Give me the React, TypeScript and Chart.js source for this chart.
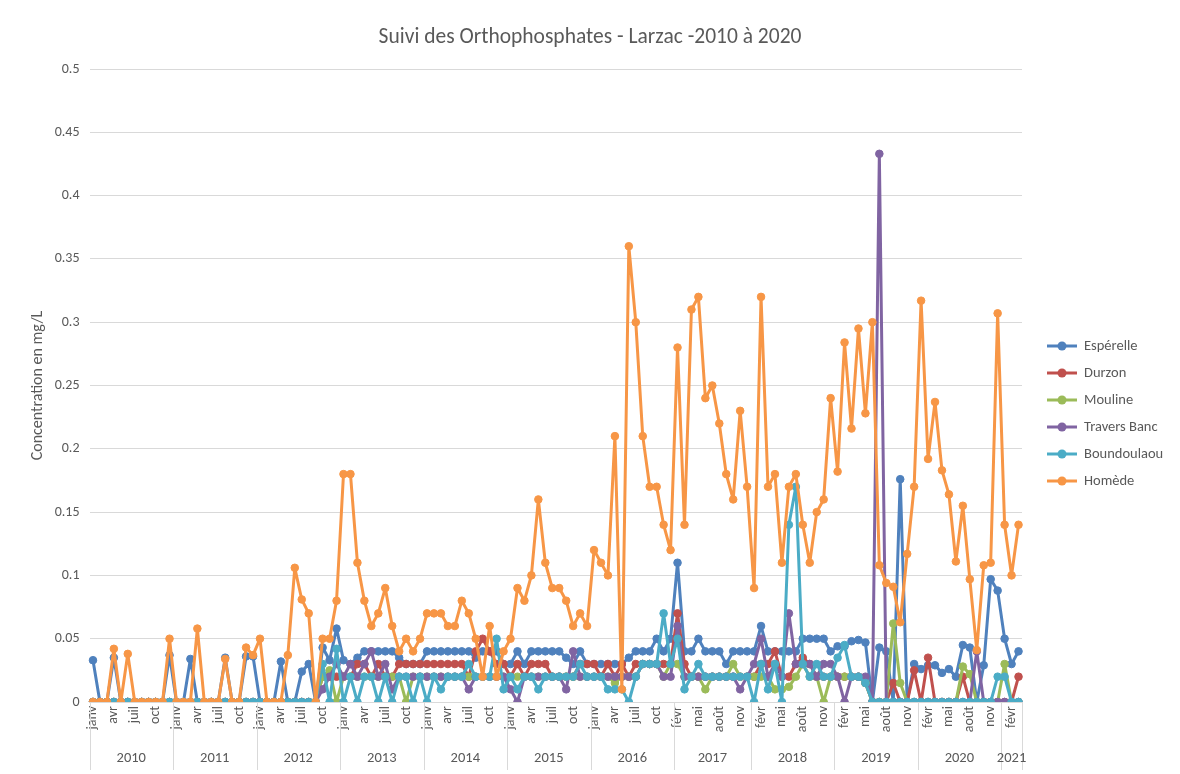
import React, { useEffect, useRef } from 'react';
import { Chart, registerables } from 'chart.js';

Chart.register(...registerables);

const FONT = 'Calibri, Carlito, "Open Sans", sans-serif';
const TEXT = '#595959';
const GRID = '#D9D9D9';

const titleText = 'Suivi des Orthophosphates - Larzac -2010 à 2020';
const yTitle = 'Concentration en mg/L';

const monthNames = ['janv', 'févr', 'mars', 'avr', 'mai', 'juin', 'juil', 'août', 'sept', 'oct', 'nov', 'déc'];
const years = ['2010', '2011', '2012', '2013', '2014', '2015', '2016', '2017', '2018', '2019', '2020', '2021'];
const firstMonth = [0, 0, 0, 0, 0, 0, 0, 1, 0, 0, 0, 0];
const monthCount = [12, 12, 12, 12, 12, 12, 12, 11, 12, 12, 12, 3];

const esperelle = [
  0.033, 0, 0, 0.035, 0, 0, 0, 0, 0, 0, 0, 0.037,
  0, 0, 0.034, 0, 0, 0, 0, 0.035, 0, 0, 0.036, 0.036,
  0, 0, 0, 0.032, 0, 0, 0.024, 0.030, 0, 0.043, 0.033, 0.058,
  0.033, 0.030, 0.035, 0.040, 0.040, 0.040, 0.040, 0.040, 0.035, 0.030, 0.030, 0.030,
  0.040, 0.040, 0.040, 0.040, 0.040, 0.040, 0.040, 0.035, 0.040, 0.040, 0.040, 0.030,
  0.030, 0.040, 0.030, 0.040, 0.040, 0.040, 0.040, 0.040, 0.035, 0.030, 0.040, 0.030,
  0.030, 0.030, 0.030, 0.030, 0.030, 0.035, 0.040, 0.040, 0.040, 0.050, 0.040, 0.050,
  0.110, 0.040, 0.040, 0.050, 0.040, 0.040, 0.040, 0.030, 0.040, 0.040, 0.040,
  0.040, 0.060, 0.040, 0.040, 0.040, 0.040, 0.040, 0.050, 0.050, 0.050, 0.050, 0.040,
  0.044, 0.044, 0.048, 0.049, 0.047, 0, 0.043, 0.040, 0, 0.176, 0, 0.030,
  0.026, 0.029, 0.029, 0.023, 0.026, 0.020, 0.045, 0.043, 0, 0.029, 0.097, 0.088,
  0.050, 0.030, 0.040,
];

const durzon = [
  0, 0, 0, 0, 0, 0, 0, 0, 0, 0, 0, 0,
  0, 0, 0, 0, 0, 0, 0, 0, 0, 0, 0, 0,
  0, 0, 0, 0, 0, 0, 0, 0, 0, 0.020, 0.020, 0.020,
  0.020, 0.020, 0.030, 0.030, 0.020, 0.030, 0.020, 0.020, 0.030, 0.030, 0.030, 0.030,
  0.030, 0.030, 0.030, 0.030, 0.030, 0.030, 0.020, 0.040, 0.050, 0.040, 0.030, 0.030,
  0.020, 0.030, 0.020, 0.030, 0.030, 0.030, 0.020, 0.020, 0.020, 0.020, 0.030, 0.030,
  0.030, 0.020, 0.030, 0.020, 0.030, 0.020, 0.030, 0.030, 0.030, 0.030, 0.030, 0.030,
  0.070, 0.030, 0.020, 0.020, 0.020, 0.020, 0.020, 0.020, 0.020, 0.020, 0.020,
  0.020, 0.030, 0.030, 0.040, 0.020, 0.020, 0.030, 0.035, 0.030, 0.020, 0.020, 0.020,
  0.020, 0.020, 0.020, 0.020, 0.015, 0, 0, 0, 0.015, 0, 0, 0.025,
  0, 0.035, 0, 0, 0, 0, 0.020, 0, 0, 0, 0, 0,
  0, 0, 0.020,
];

const mouline = [
  0, 0, 0, 0, 0, 0, 0, 0, 0, 0, 0, 0,
  0, 0, 0, 0, 0, 0, 0, 0, 0, 0, 0, 0,
  0, 0, 0, 0, 0, 0, 0, 0, 0, 0.020, 0.025, 0,
  0.020, 0.020, 0.020, 0.020, 0.020, 0.020, 0.020, 0.020, 0.020, 0, 0.020, 0.020,
  0.020, 0.020, 0.020, 0.020, 0.020, 0.020, 0.020, 0.020, 0.020, 0.020, 0.020, 0.020,
  0.020, 0.020, 0.020, 0.020, 0.020, 0.020, 0.020, 0.020, 0.020, 0.020, 0.020, 0.020,
  0.020, 0.020, 0.020, 0.015, 0.020, 0.020, 0.020, 0.030, 0.030, 0.030, 0.020, 0.030,
  0.030, 0.020, 0.020, 0.020, 0.010, 0.020, 0.020, 0.020, 0.030, 0.020, 0.020,
  0.020, 0.020, 0.020, 0.010, 0.010, 0.012, 0.020, 0.030, 0.020, 0.020, 0, 0.020,
  0.020, 0.020, 0.020, 0.020, 0.015, 0, 0, 0, 0.062, 0.015, 0, 0,
  0, 0, 0, 0, 0, 0, 0.028, 0.022, 0, 0, 0, 0,
  0.030, 0, 0,
];

const traversBanc = [
  0, 0, 0, 0, 0, 0, 0, 0, 0, 0, 0, 0,
  0, 0, 0, 0, 0, 0, 0, 0, 0, 0, 0, 0,
  0, 0, 0, 0, 0, 0, 0, 0, 0, 0.010, 0.020, 0.030,
  0.020, 0.030, 0.020, 0.030, 0.040, 0.020, 0.030, 0.010, 0.020, 0.020, 0.020, 0.020,
  0.020, 0.020, 0.020, 0.020, 0.020, 0.020, 0.010, 0.020, 0.020, 0.020, 0.020, 0.020,
  0.010, 0, 0.020, 0.020, 0.020, 0.020, 0.020, 0.020, 0.010, 0.040, 0.020, 0.020,
  0.020, 0.020, 0.020, 0.020, 0.020, 0.020, 0.020, 0.030, 0.030, 0.030, 0.020, 0.020,
  0.060, 0.020, 0.020, 0.020, 0.020, 0.020, 0.020, 0.020, 0.020, 0.010, 0.020,
  0.030, 0.050, 0.020, 0.030, 0.020, 0.070, 0.030, 0.030, 0.030, 0.020, 0.030, 0.030,
  0.020, 0, 0.020, 0.020, 0.020, 0, 0.433, 0, 0, 0, 0, 0,
  0, 0, 0, 0, 0, 0, 0, 0, 0.040, 0, 0, 0,
  0, 0, 0,
];

const boundoulaou = [
  0, 0, 0, 0, 0, 0, 0, 0, 0, 0, 0, 0,
  0, 0, 0, 0, 0, 0, 0, 0, 0, 0, 0, 0,
  0, 0, 0, 0, 0, 0, 0, 0, 0, 0.030, 0, 0.042,
  0, 0.020, 0, 0.020, 0.020, 0, 0.020, 0, 0.020, 0.020, 0, 0.020,
  0, 0.020, 0.010, 0.020, 0.020, 0.020, 0.030, 0.020, 0.020, 0.020, 0.050, 0.010,
  0.020, 0.010, 0.020, 0.020, 0.010, 0.020, 0.020, 0.020, 0.020, 0.020, 0.030, 0.020,
  0.020, 0.020, 0.010, 0.010, 0.010, 0, 0.020, 0.030, 0.030, 0.030, 0.070, 0.030,
  0.050, 0.010, 0.020, 0.030, 0.020, 0.020, 0.020, 0.020, 0.020, 0.020, 0.020,
  0, 0.030, 0.010, 0.030, 0, 0.140, 0.170, 0.030, 0.020, 0.030, 0.020, 0.020,
  0.035, 0.045, 0.020, 0.020, 0.015, 0, 0, 0, 0, 0, 0, 0,
  0, 0, 0, 0, 0, 0, 0, 0, 0, 0, 0, 0.020,
  0.020, 0, 0,
];

const homede = [
  0, 0, 0, 0.042, 0, 0.038, 0, 0, 0, 0, 0, 0.050,
  0, 0, 0, 0.058, 0, 0, 0, 0.034, 0, 0, 0.043, 0.037,
  0.050, 0, 0, 0, 0.037, 0.106, 0.081, 0.070, 0, 0.050, 0.050, 0.080,
  0.180, 0.180, 0.110, 0.080, 0.060, 0.070, 0.090, 0.060, 0.040, 0.050, 0.040, 0.050,
  0.070, 0.070, 0.070, 0.060, 0.060, 0.080, 0.070, 0.050, 0.020, 0.060, 0.020, 0.040,
  0.050, 0.090, 0.080, 0.100, 0.160, 0.110, 0.090, 0.090, 0.080, 0.060, 0.070, 0.060,
  0.120, 0.110, 0.100, 0.210, 0.010, 0.360, 0.300, 0.210, 0.170, 0.170, 0.140, 0.120,
  0.280, 0.140, 0.310, 0.320, 0.240, 0.250, 0.220, 0.180, 0.160, 0.230, 0.170,
  0.090, 0.320, 0.170, 0.180, 0.110, 0.170, 0.180, 0.140, 0.110, 0.150, 0.160, 0.240,
  0.182, 0.284, 0.216, 0.295, 0.228, 0.300, 0.108, 0.094, 0.091, 0.063, 0.117, 0.170,
  0.317, 0.192, 0.237, 0.183, 0.164, 0.111, 0.155, 0.097, 0.041, 0.108, 0.110, 0.307,
  0.140, 0.100, 0.140,
];

const seriesNames = ['Espérelle', 'Durzon', 'Mouline', 'Travers Banc', 'Boundoulaou', 'Homède'];
const seriesColors = ['#4F81BD', '#C0504D', '#9BBB59', '#8064A2', '#4BACC6', '#F79646'];
const seriesData = [esperelle, durzon, mouline, traversBanc, boundoulaou, homede];

const categories: string[] = [];
const yearStart: number[] = [];
years.forEach((y, k) => {
  yearStart.push(categories.length);
  for (let m = 0; m < monthCount[k]; m++) categories.push(monthNames[firstMonth[k] + m]);
});
yearStart.push(categories.length);

const decorPlugin = {
  id: 'decor',
  afterDraw(chart: any) {
    const ctx = chart.ctx;
    const area = chart.chartArea;
    const xs = chart.scales.x;
    ctx.save();
    // title
    ctx.fillStyle = TEXT;
    ctx.font = `21.5px ${FONT}`;
    ctx.textAlign = 'center';
    ctx.textBaseline = 'middle';
    ctx.fillText(titleText, 590, 38);

    // year level of the axis
    const half = (xs.getPixelForValue(1) - xs.getPixelForValue(0)) / 2;
    ctx.strokeStyle = GRID;
    ctx.lineWidth = 1;
    yearStart.forEach((idx) => {
      const px = idx < categories.length ? xs.getPixelForValue(idx) - half : xs.getPixelForValue(categories.length - 1) + half;
      const xx = Math.round(px) + 0.5;
      ctx.beginPath();
      ctx.moveTo(xx, area.bottom);
      ctx.lineTo(xx, 770);
      ctx.stroke();
    });
    ctx.font = `14.5px ${FONT}`;
    ctx.fillStyle = TEXT;
    years.forEach((y, k) => {
      const a = xs.getPixelForValue(yearStart[k]) - half;
      const b = xs.getPixelForValue(yearStart[k + 1] - 1) + half;
      ctx.fillText(y, (a + b) / 2, 758);
    });

    // legend
    ctx.textAlign = 'left';
    ctx.font = `14.5px ${FONT}`;
    seriesNames.forEach((n, k) => {
      const yy = 346 + k * 27;
      ctx.strokeStyle = seriesColors[k];
      ctx.lineWidth = 3;
      ctx.beginPath();
      ctx.moveTo(1047, yy);
      ctx.lineTo(1077, yy);
      ctx.stroke();
      ctx.fillStyle = seriesColors[k];
      ctx.beginPath();
      ctx.arc(1062, yy, 4.5, 0, Math.PI * 2);
      ctx.fill();
      ctx.fillStyle = TEXT;
      ctx.fillText(n, 1084, yy);
    });
    ctx.restore();
  },
};

export default function App() {
  const ref = useRef<HTMLCanvasElement>(null);
  useEffect(() => {
    if (!ref.current) return;
    const chart = new Chart(ref.current, {
      type: 'line',
      data: {
        labels: categories,
        datasets: seriesData.map((d, k) => ({
          label: seriesNames[k],
          data: d,
          borderColor: seriesColors[k],
          backgroundColor: seriesColors[k],
          pointBackgroundColor: seriesColors[k],
          pointBorderColor: seriesColors[k],
          borderWidth: 3,
          borderJoinStyle: 'round',
          borderCapStyle: 'round',
          pointRadius: 3.8,
          pointBorderWidth: 1,
          tension: 0,
          fill: false,
          order: 5 - k,
        })),
      },
      options: {
        responsive: false,
        animation: false,
        layout: { padding: { left: 26, right: 158, top: 69, bottom: 0 } },
        plugins: {
          legend: { display: false },
          title: { display: false },
          tooltip: { enabled: false },
        },
        scales: {
          x: {
            type: 'category',
            offset: true,
            grid: { display: false, drawTicks: false },
            border: { display: true, color: GRID },
            ticks: {
              autoSkip: false,
              minRotation: 90,
              maxRotation: 90,
              padding: 4,
              color: TEXT,
              font: { size: 14, family: FONT },
              callback: (_v: any, i: number) => (i % 3 === 0 ? categories[i] : ''),
            },
            afterFit: (s: any) => {
              s.height = 72;
            },
          },
          y: {
            min: 0,
            max: 0.5,
            grid: { color: GRID, drawTicks: false },
            border: { display: false },
            ticks: {
              stepSize: 0.05,
              padding: 10,
              color: TEXT,
              font: { size: 14, family: FONT },
              callback: (v: any) => String(Number(Number(v).toFixed(2))),
            },
            title: {
              display: true,
              text: yTitle,
              color: TEXT,
              font: { size: 16, family: FONT },
              padding: { top: 2, bottom: 4 },
            },
            afterFit: (s: any) => {
              s.width = 63.5;
            },
          },
        },
      },
      plugins: [decorPlugin],
    });
    return () => chart.destroy();
  }, []);
  return (
    <div style={{ position: 'absolute', left: 0, top: 0, width: 1180, height: 774, background: '#fff' }}>
      <canvas ref={ref} width={1180} height={774} style={{ width: 1180, height: 774 }} />
    </div>
  );
}
